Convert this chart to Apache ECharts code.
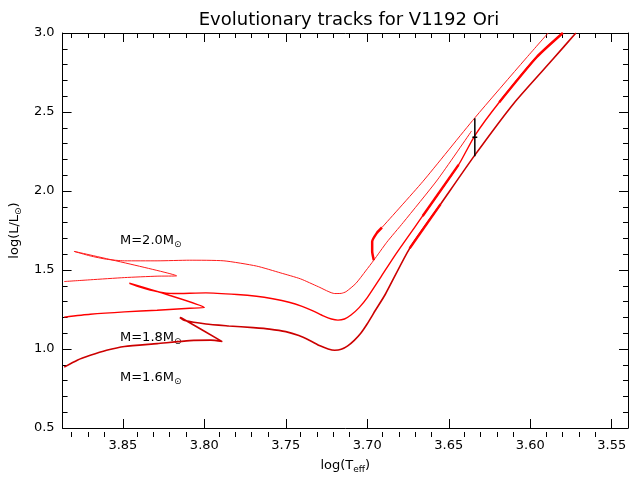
<!DOCTYPE html>
<html>
<head>
<meta charset="utf-8">
<script src="https://cdn.jsdelivr.net/npm/echarts@6/dist/echarts.min.js"></script>
<style>
  html, body { margin: 0; padding: 0; background: #fff; }
  #chart { width: 632px; height: 479px; }
</style>
</head>
<body>
<div id="chart"></div>
<script>
// tracks: log(Teff) and log(L/Lsun)
const m16Teff = [3.886, 3.878, 3.870, 3.860, 3.849, 3.829, 3.809, 3.796, 3.789,
  3.814, 3.815, 3.812, 3.799, 3.785, 3.770, 3.760, 3.750, 3.742, 3.735, 3.729,
  3.724, 3.720, 3.716, 3.712, 3.708, 3.704, 3.700, 3.695, 3.689, 3.674, 3.655,
  3.634, 3.610, 3.586, 3.572];
const m16Lum = [0.885, 0.929, 0.960, 0.992, 1.016, 1.034, 1.053, 1.056, 1.047,
  1.196, 1.199, 1.180, 1.158, 1.146, 1.135, 1.126, 1.110, 1.085, 1.052, 1.020,
  1.000, 0.992, 0.998, 1.020, 1.055, 1.100, 1.160, 1.245, 1.345, 1.637, 1.917,
  2.227, 2.556, 2.835, 3.0];

const m18Teff = [3.886, 3.870, 3.849, 3.829, 3.809, 3.800, 3.823, 3.846, 3.839,
  3.829, 3.819, 3.799, 3.780, 3.768, 3.758, 3.748, 3.740, 3.733, 3.727, 3.722,
  3.718, 3.714, 3.710, 3.705, 3.700, 3.692, 3.683, 3.666, 3.644, 3.634, 3.619,
  3.596, 3.580];
const m18Lum = [1.202, 1.220, 1.235, 1.245, 1.258, 1.262, 1.345, 1.416, 1.390,
  1.363, 1.351, 1.355, 1.345, 1.334, 1.318, 1.296, 1.270, 1.240, 1.210, 1.190,
  1.183, 1.190, 1.215, 1.262, 1.325, 1.450, 1.593, 1.842, 2.165, 2.351, 2.562,
  2.848, 3.0];

const m20Teff = [3.886, 3.870, 3.849, 3.829, 3.817, 3.880, 3.870, 3.860, 3.849,
  3.829, 3.809, 3.788, 3.768, 3.753, 3.741, 3.730, 3.720, 3.716, 3.713, 3.707,
  3.701, 3.696, 3.688, 3.678, 3.657, 3.636];
const m20Lum = [1.427, 1.438, 1.452, 1.461, 1.463, 1.618, 1.589, 1.568, 1.558,
  1.558, 1.562, 1.558, 1.525, 1.481, 1.444, 1.394, 1.351, 1.352, 1.363, 1.415,
  1.494, 1.562, 1.676, 1.800, 2.070, 2.380];

// 2.0 Msun hook and the branch leaving it towards the top
const hookTeff = [3.696, 3.697, 3.697, 3.694, 3.691];
const hookLum = [1.562, 1.618, 1.680, 1.736, 1.769];
const m20bTeff = [3.691, 3.666, 3.634, 3.603, 3.589];
const m20bLum = [1.769, 2.059, 2.463, 2.835, 3.0];

// slowly evolving (densely sampled) stretches that print heavier
const m18SlowTeff = [3.666, 3.644];
const m18SlowLum = [1.842, 2.165];
const m18TopTeff = [3.619, 3.596, 3.580];
const m18TopLum = [2.562, 2.848, 3.0];
const m16SlowTeff = [3.674, 3.655];
const m16SlowLum = [1.637, 1.917];

// V1192 Ori position with its luminosity error
const starTeff = 3.634;
const starLum = 2.34;
const starLumErr = 0.12;
const starTeffErr = 0.0015;

const xMajor = [3.85, 3.80, 3.75, 3.70, 3.65, 3.60, 3.55];
const xMinor = [3.88, 3.87, 3.86, 3.84, 3.83, 3.82, 3.81, 3.79, 3.78, 3.77, 3.76,
  3.74, 3.73, 3.72, 3.71, 3.69, 3.68, 3.67, 3.66, 3.64, 3.63, 3.62, 3.61,
  3.59, 3.58, 3.57, 3.56];

function pairs(xs, ys) {
  return xs.map((x, i) => [x, ys[i]]);
}

let chart = echarts.init(document.getElementById('chart'));

const font = 'DejaVu Sans';
const xMin = 3.540, xMax = 3.887;
const frame = { show: true, onZero: false, lineStyle: { color: '#000', width: 1 } };
const subRich = {
  s: { fontSize: 9, fontFamily: font, color: '#000', padding: [8, 0, 0, 0] }
};

function trackSeries(name, data, color, width) {
  return {
    name: name,
    type: 'line',
    data: data,
    symbol: 'none',
    smooth: 0.2,
    lineStyle: { color: color, width: width },
    silent: true
  };
}

chart.setOption({
  animation: false,
  title: {
    text: 'Evolutionary tracks for V1192 Ori',
    left: 344,
    top: 6,
    textAlign: 'center',
    textStyle: { fontFamily: font, fontSize: 18, fontWeight: 'normal', color: '#000' }
  },
  grid: [
    { left: 60, right: 4, top: 33, bottom: 42 },
    { left: 60, right: 4, top: 33, bottom: 42 }
  ],
  xAxis: [
    {
      type: 'value', gridIndex: 0, position: 'bottom', min: xMin, max: xMax, inverse: true,
      axisLine: frame,
      axisTick: { inside: true, length: 9, customValues: xMajor, lineStyle: { color: '#000' } },
      axisLabel: {
        customValues: xMajor, margin: 11, fontFamily: font, fontSize: 13, color: '#000',
        formatter: v => v.toFixed(2)
      },
      splitLine: { show: false },
      name: 'log(T{s|eff})',
      nameLocation: 'middle',
      nameGap: 29,
      nameTextStyle: { fontFamily: font, fontSize: 13, color: '#000', rich: subRich }
    },
    {
      type: 'value', gridIndex: 0, position: 'top', min: xMin, max: xMax, inverse: true,
      axisLine: frame,
      axisTick: { inside: true, length: 9, customValues: xMajor, lineStyle: { color: '#000' } },
      axisLabel: { show: false },
      splitLine: { show: false }
    },
    {
      type: 'value', gridIndex: 1, position: 'bottom', min: xMin, max: xMax, inverse: true,
      axisLine: { show: false },
      axisTick: { inside: true, length: 5, customValues: xMinor, lineStyle: { color: '#000' } },
      axisLabel: { show: false },
      splitLine: { show: false }
    },
    {
      type: 'value', gridIndex: 1, position: 'top', min: xMin, max: xMax, inverse: true,
      axisLine: { show: false },
      axisTick: { inside: true, length: 5, customValues: xMinor, lineStyle: { color: '#000' } },
      axisLabel: { show: false },
      splitLine: { show: false }
    }
  ],
  yAxis: [
    {
      type: 'value', gridIndex: 0, position: 'left', min: 0.5, max: 3.0, interval: 0.5,
      axisLine: frame,
      axisTick: { inside: true, length: 9, lineStyle: { color: '#000' } },
      minorTick: { show: true, splitNumber: 5, length: 5, lineStyle: { color: '#000' } },
      axisLabel: { margin: 8, fontFamily: font, fontSize: 13, color: '#000', formatter: v => v.toFixed(1) },
      splitLine: { show: false },
      name: 'log(L/L{s|⊙})',
      nameLocation: 'middle',
      nameGap: 35,
      nameTextStyle: { fontFamily: font, fontSize: 13, color: '#000', rich: subRich }
    },
    {
      type: 'value', gridIndex: 0, position: 'right', min: 0.5, max: 3.0, interval: 0.5,
      axisLine: frame,
      axisTick: { inside: true, length: 9, lineStyle: { color: '#000' } },
      minorTick: { show: true, splitNumber: 5, length: 5, lineStyle: { color: '#000' } },
      axisLabel: { show: false },
      splitLine: { show: false }
    },
    {
      type: 'value', gridIndex: 1, min: 0.5, max: 3.0, show: false
    }
  ],
  graphic: [
    { type: 'text', left: 120, top: 234, style: { text: 'M=2.0M{s|⊙}', font: '13px DejaVu Sans', fill: '#000', rich: subRich } },
    { type: 'text', left: 120, top: 331, style: { text: 'M=1.8M{s|⊙}', font: '13px DejaVu Sans', fill: '#000', rich: subRich } },
    { type: 'text', left: 120, top: 371, style: { text: 'M=1.6M{s|⊙}', font: '13px DejaVu Sans', fill: '#000', rich: subRich } }
  ],
  series: [
    trackSeries('2.0', pairs(m20Teff, m20Lum), '#ff1a1a', 1),
    trackSeries('2.0 branch', pairs(m20bTeff, m20bLum), '#ff1a1a', 1),
    trackSeries('2.0 hook', pairs(hookTeff, hookLum), '#ff0000', 2.5),
    trackSeries('1.8', pairs(m18Teff, m18Lum), '#ff0000', 1.4),
    trackSeries('1.8 slow', pairs(m18SlowTeff, m18SlowLum), '#ff0000', 2.4),
    trackSeries('1.8 top', pairs(m18TopTeff, m18TopLum), '#ff0000', 2.4),
    trackSeries('1.6', pairs(m16Teff, m16Lum), '#cc0000', 1.6),
    trackSeries('1.6 slow', pairs(m16SlowTeff, m16SlowLum), '#ff0000', 2.4),
    {
      name: 'errbar',
      type: 'line',
      data: [[starTeff, starLum - starLumErr], [starTeff, starLum + starLumErr]],
      symbol: 'none',
      lineStyle: { color: '#000', width: 1.5 },
      silent: true
    },
    {
      name: 'mark',
      type: 'line',
      data: [[starTeff - starTeffErr, starLum], [starTeff + starTeffErr, starLum]],
      symbol: 'none',
      lineStyle: { color: '#000', width: 1.5 },
      silent: true
    }
  ]
});
</script>
</body>
</html>
